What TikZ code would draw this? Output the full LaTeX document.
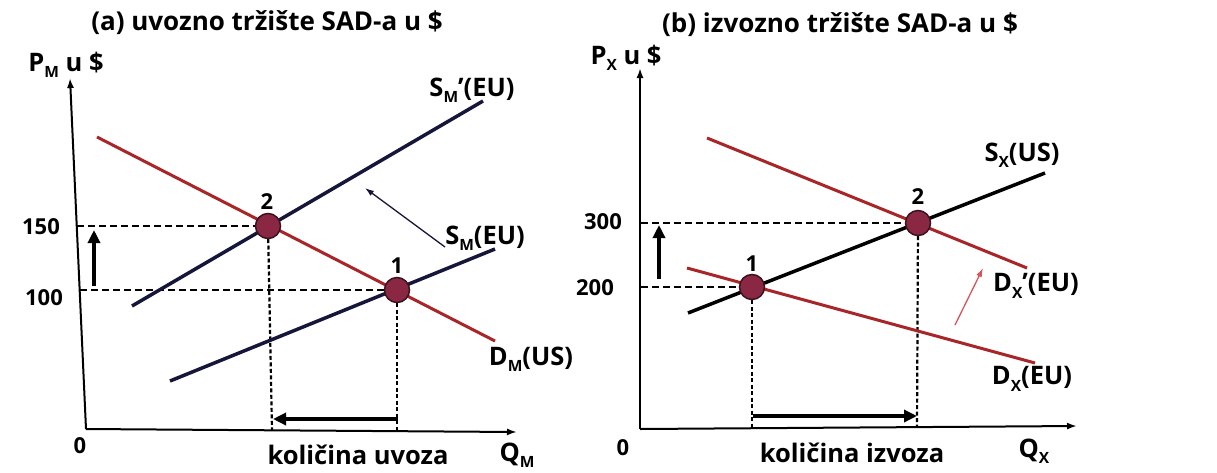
\documentclass[tikz,border=0pt]{standalone}
\usepackage{fontspec}
\setmainfont{Open Sans}
\usetikzlibrary{arrows.meta}
\definecolor{dred}{RGB}{168,38,40}
\definecolor{lred}{RGB}{215,85,90}
\definecolor{navy}{RGB}{22,22,58}
\definecolor{dotfill}{RGB}{138,40,68}
\definecolor{dotline}{RGB}{60,18,30}
\newcommand{\lowsub}[1]{\raisebox{-0.45ex}{\fontsize{15.5}{16}\selectfont #1}}
\begin{document}
\begin{tikzpicture}[x=1pt,y=-1pt,
  lbl/.style={font=\bfseries\fontsize{25.5}{30}\selectfont, inner sep=0pt},
  num/.style={font=\bfseries\fontsize{22}{28}\selectfont, inner sep=0pt},
  ttl/.style={font=\bfseries\fontsize{26}{32}\selectfont, inner sep=0pt},
  axisline/.style={line width=2pt, -{Latex[length=10pt,width=7pt]}},
  supply/.style={line width=3.5pt, navy},
  supplyb/.style={line width=3.5pt, black},
  demand/.style={line width=3pt, dred},
  hdash/.style={line width=1.6pt, dash pattern=on 7pt off 4pt},
  vdash/.style={line width=2.2pt, dash pattern=on 4pt off 2.5pt},
  bigarrow/.style={line width=4pt, -{Triangle[length=13pt,width=12pt]}},
  thinarrow/.style={line width=1.3pt, -{Latex[length=9pt,width=6pt]}},
  eqdot/.style={circle, minimum size=25pt, inner sep=0pt, fill=dotfill, draw=dotline, line width=1.5pt},
]
\fill[white] (0,0) rectangle (1217,472);
\useasboundingbox (0,0) rectangle (1217,472);

% ---------- panel (a) ----------
\node[ttl] (titleA) at (267,23) {(a) uvozno tržište SAD-a u \$};
\coordinate (oA) at (86,429);
\coordinate (yA) at (70,78);
\coordinate (xA) at (517,432);
\draw[axisline] (oA) -- (yA);
\draw[axisline] (oA) -- (xA);
\node[lbl] (pmA) at (66,65) {P\lowsub{M} u \$};
\node[num] (zeroA) at (80,446) {0};
\node[lbl] (qmA) at (517,455) {Q\lowsub{M}};
\node[lbl] (kolA) at (358,455) {količina uvoza};
\node[num] (n150) at (41,227) {150};
\node[num] (n100) at (44,298) {100};

\coordinate (smp1) at (132,306);
\coordinate (smp2) at (483,101);
\coordinate (sm1) at (170,381);
\coordinate (sm2) at (495,249);
\coordinate (dm1) at (97,137);
\coordinate (dm2) at (495,341);
\coordinate (a150) at (77,226);
\coordinate (a100) at (80,290);
\coordinate (b2A) at (272,430);
\coordinate (b1A) at (397,431);

\draw[hdash] (a150) -- (268,226);
\draw[hdash] (a100) -- (397,290);
\draw[vdash] (268,226) -- (b2A);
\draw[vdash] (397,290) -- (b1A);

\draw[supply] (smp1) -- (smp2);
\draw[supply] (sm1) -- (sm2);
\draw[demand] (dm1) -- (dm2);

\node[eqdot] (p2A) at (268,226) {};
\node[eqdot] (p1A) at (397,290) {};
\node[num] (l2A) at (267,202) {2};
\node[num] (l1A) at (397,266) {1};

\node[lbl] (smpL) at (472,90) {S\lowsub{M}’(EU)};
\node[lbl] (smL) at (485,238) {S\lowsub{M}(EU)};
\node[lbl] (dmL) at (531,359) {D\lowsub{M}(US)};

\coordinate (sa1) at (445,247);
\coordinate (sa2) at (365,188);
\draw[thinarrow, navy] (sa1) -- (sa2);
\coordinate (ua1) at (94,286);
\coordinate (ua2) at (94,230);
\draw[bigarrow] (ua1) -- (ua2);
\coordinate (la1) at (398,419);
\coordinate (la2) at (273,419);
\draw[bigarrow] (la1) -- (la2);

% ---------- panel (b) ----------
\node[ttl] (titleB) at (840,25) {(b) izvozno tržište SAD-a u \$};
\coordinate (oB) at (640,429);
\coordinate (yB) at (640,68);
\coordinate (xB) at (1077,426);
\draw[axisline] (oB) -- (yB);
\draw[axisline] (oB) -- (xB);
\node[lbl] (pxB) at (626,58) {P\lowsub{X} u \$};
\node[num] (zeroB) at (623,448) {0};
\node[lbl] (qxB) at (1034,451) {Q\lowsub{X}};
\node[lbl] (kolB) at (852,453) {količina izvoza};
\node[num] (n300) at (603,222) {300};
\node[num] (n200) at (595,288) {200};

\coordinate (sx1) at (688,313);
\coordinate (sx2) at (1045,173);
\coordinate (dxp1) at (707,138);
\coordinate (dxp2) at (1027,268);
\coordinate (dx1) at (687,268);
\coordinate (dx2) at (1035,363);
\coordinate (a300) at (641,223);
\coordinate (a200) at (641,287);
\coordinate (b2B) at (917,427);
\coordinate (b1B) at (752,428);

\draw[hdash] (a300) -- (918,223);
\draw[hdash] (a200) -- (752,287);
\draw[vdash] (918,223) -- (b2B);
\draw[vdash] (752,287) -- (b1B);

\draw[demand] (dxp1) -- (dxp2);
\draw[demand] (dx1) -- (dx2);
\draw[supplyb] (sx1) -- (sx2);

\node[eqdot] (p2B) at (918,223) {};
\node[eqdot] (p1B) at (752,287) {};
\node[num] (l2B) at (918,197) {2};
\node[num] (l1B) at (752,264) {1};

\node[lbl] (sxL) at (1022,155) {S\lowsub{X}(US)};
\node[lbl] (dxpL) at (1036,286) {D\lowsub{X}’(EU)};
\node[lbl] (dxL) at (1032,379) {D\lowsub{X}(EU)};

\coordinate (ra1) at (955,325);
\coordinate (ra2) at (983,268);
\draw[thinarrow, lred] (ra1) -- (ra2);
\coordinate (ub1) at (659,279);
\coordinate (ub2) at (659,225);
\draw[bigarrow] (ub1) -- (ub2);
\coordinate (rb1) at (753,416);
\coordinate (rb2) at (917,416);
\draw[bigarrow] (rb1) -- (rb2);
\end{tikzpicture}
\end{document}
